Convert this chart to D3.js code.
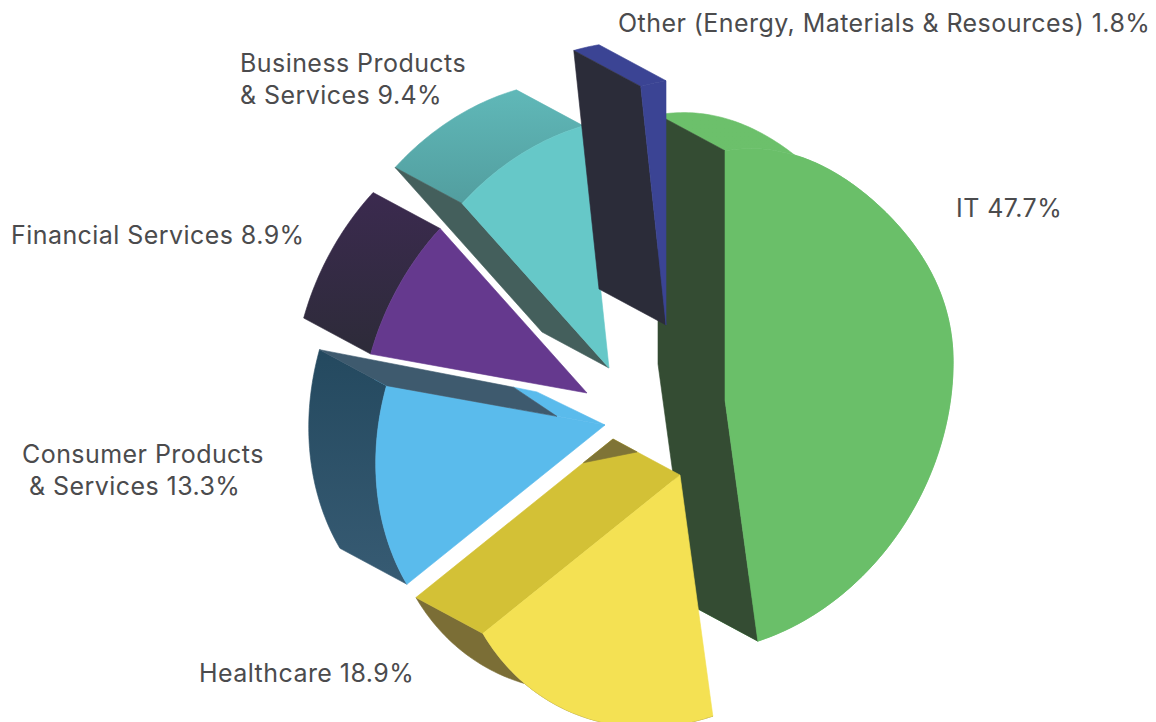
<!DOCTYPE html>
<html><head><meta charset="utf-8">
<script src="https://cdn.jsdelivr.net/npm/d3@7/dist/d3.min.js"></script>
<style>html,body{margin:0;padding:0;background:#fff}svg{display:block}text{font-family:Inter,"Open Sans",sans-serif;fill:#4b4b4d;letter-spacing:.44px}</style>
</head><body><svg id="c" width="1156" height="722"></svg>
<script>
// ---- data ----
const categories = ["IT","Healthcare","Consumer Products & Services","Financial Services","Business Products & Services","Other (Energy, Materials & Resources)"];
const shares = [47.7,18.9,13.3,8.9,9.4,1.8];

// ---- style ----
const topColors  = ["#6abf69","#f4e153","#5abbec","#65398e","#66c8c8","#3b4494"];
const arcFrom    = ["#6cc06b","#7b6e36","#24495f","#3b2a4f","#60b8b8","#3b4494"];
const arcTo      = ["#6abf69","#7b6e36","#375b73","#2d2b39","#529e9f","#3b4494"];
const radialCols = ["#344c33","#d3c136","#3e5a6e","#2e2c3c","#445f5c","#2b2c39"];

// ---- layout ----
const FONT = 25;
const proj = {xs:227, ys:-38, yc:-248};           // tilted pie plane
const depth = [-67,-36];                           // extrusion vector
const apex = [[725,400],[680,475],[605,425],[587,393],[609,368],[666,325]]; // exploded slice tips
const radiusScale = [1.005,1.005,1.01,1,1,0.985];
const shoulder = [0.045,0,0,0,0,0];                // flattening of the first quadrant
const paintOrder = [0,4,5,3,2,1];
const labelLayout = [
  {i:0,x:956,y:217},
  {i:1,x:199,y:682},
  {i:2,x:22,y:463,x2:29,y2:495},
  {i:3,x:11,y:244},
  {i:4,x:240,y:72,x2:240,y2:104},
  {i:5,x:618,y:32}
];

const svg = d3.select("#c");
const defs = svg.append("defs");
const arcs = d3.pie().sort(null).value(d=>d).startAngle(0).endAngle(2*Math.PI)(shares);
const line = d3.line();

// (r,h,theta) -> screen, r is a share of the radius, h a share of the depth
function pt(i,t,r,h){
  let R = r*radiusScale[i];
  if (t<Math.PI/2) R *= 1-shoulder[i]*Math.sin(2*t)**2;
  return [apex[i][0]+R*proj.xs*Math.sin(t)+h*depth[0],
          apex[i][1]+R*(proj.ys*Math.sin(t)+proj.yc*Math.cos(t))+h*depth[1]];
}
function poly(pts,fill,parent){
  parent.append("path").attr("d",line(pts)+"Z").attr("fill",fill).attr("stroke",fill).attr("stroke-width",0.6).attr("stroke-linejoin","round");
}
// partial faces seen in the reference
const trimmedWall = {2:[[1,1],[1,0],[.22,0],[.146,.89]]};
const backing = {2:[[[.146,.89],[.045,.87],[0,0],[.22,0]],[[1,.18],[1,0],[.9,0]]]};
const innerCorner = {1:[[0,1],[.15,1],[0,.64]]};
const innerCol = {1:"#7f7436"};

paintOrder.forEach(i=>{
  const a = arcs[i], g = svg.append("g");
  const n = Math.max(8,Math.ceil((a.endAngle-a.startAngle)*60));
  const ts = d3.range(n+1).map(k=>a.startAngle+(a.endAngle-a.startAngle)*k/n);

  const gid = "arc"+i;
  const lg = defs.append("linearGradient").attr("id",gid).attr("x1",0).attr("y1",0).attr("x2",0).attr("y2",1);
  lg.append("stop").attr("offset",0).attr("stop-color",arcFrom[i]);
  lg.append("stop").attr("offset",1).attr("stop-color",arcTo[i]);

  // outer wall
  poly(ts.map(t=>pt(i,t,1,1)).concat(ts.slice().reverse().map(t=>pt(i,t,1,0))),`url(#${gid})`,g);

  // radial walls, only the ones facing the viewer; joined at the tip when both show
  const facing = [[a.startAngle,1],[a.endAngle,-1]].filter(([t,side])=>{
    const o = pt(i,t,0,0), e = pt(i,t,1,0);
    return ((e[0]-o[0])*depth[1]-(e[1]-o[1])*depth[0])*side < 0;
  }).map(d=>d[0]);
  if (facing.length===2 && !trimmedWall[i]) {
    poly([pt(i,facing[0],1,1),pt(i,facing[0],1,0),pt(i,0,0,0),pt(i,facing[1],1,0),pt(i,facing[1],1,1),pt(i,0,0,1)],radialCols[i],g);
  } else if (!trimmedWall[i]) {
    facing.forEach(t=>poly([pt(i,t,1,1),pt(i,t,1,0),pt(i,t,0,0),pt(i,t,0,1)],radialCols[i],g));
  }

  // top face
  poly([apex[i]].concat(ts.map(t=>pt(i,t,1,0))),topColors[i],g);
  if (backing[i]) backing[i].forEach(b=>poly(b.map(([r,h])=>pt(i,a.endAngle,r,h)),topColors[i],g));
  if (trimmedWall[i]) poly(trimmedWall[i].map(([r,h])=>pt(i,a.endAngle,r,h)),radialCols[i],g);
  if (innerCorner[i]) poly(innerCorner[i].map(([r,h])=>pt(i,a.endAngle,r,h)),innerCol[i],g);
});

labelLayout.forEach(l=>{
  const full = `${categories[l.i]} ${shares[l.i]}%`;
  if (l.x2!==undefined){
    const cut = full.indexOf(" & ");
    svg.append("text").attr("x",l.x).attr("y",l.y).attr("font-size",FONT).text(full.slice(0,cut));
    svg.append("text").attr("x",l.x2).attr("y",l.y2).attr("font-size",FONT).text(full.slice(cut+1));
  } else {
    svg.append("text").attr("x",l.x).attr("y",l.y).attr("font-size",FONT).text(full);
  }
});
</script></body></html>
